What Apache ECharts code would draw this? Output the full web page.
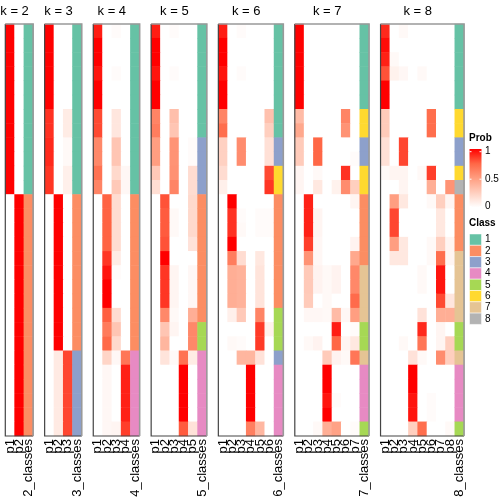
<!DOCTYPE html>
<html><head><meta charset="utf-8">
<script src="https://cdn.jsdelivr.net/npm/echarts@6/dist/echarts.min.js"></script>
<style>html,body{margin:0;padding:0;background:#fff}#c{width:504px;height:504px}</style>
</head><body><div id="c"></div>
<script>
// ---------------- DATA ----------------
const kValues = [2, 3, 4, 5, 6, 7, 8];
const classColors = ['#66C2A5', '#FC8D62', '#8DA0CB', '#E78AC3', '#A6D854', '#FFD92F', '#E5C494', '#B3B3B3'];
const probLegendTicks = ['0', '0.5', '1'];

const probs2 = [
[1,0],[1,0],[1,0],[1,0],[1,0],[1,0],[1,0],[1,0],[1,0],[1,0],[1,0],[1,0],
[0,1],[0,1],[0,1],[0,1],[0,1],[0,1],[0,1],[0,1],[0,1],[0,1],[0,1],[0,1],[0,1],[0,1],[0,1],[0,1],[0,1]];
const classes2 = [1,1,1,1,1,1,1,1,1,1,1,1,2,2,2,2,2,2,2,2,2,2,2,2,2,2,2,2,2];

const probs3 = [
[1,0,0],[1,0,0],[1,0,0],[1,0,0],[1,0,0],[1,0,0],
[0.88,0,0.1],[0.88,0,0.1],[0.9,0,0.03],[0.9,0,0.03],[0.87,0,0.08],[0.87,0,0.08],
[0,1,0],[0,1,0],[0,1,0],[0,1,0],[0,1,0],[0,1,0],[0,1,0],[0,1,0],[0,1,0],[0,1,0],[0,1,0],
[0,0.11,0.83],[0,0.11,0.83],[0,0.11,0.83],[0,0.11,0.83],[0,0.11,0.83],[0,0.11,0.83]];
const classes3 = [1,1,1,1,1,1,1,1,1,1,1,1,2,2,2,2,2,2,2,2,2,2,2,3,3,3,3,3,3];

const probs4 = [
[0.93,0,0.02,0],[1,0,0,0],[1,0,0,0],[0.95,0,0.02,0],[1,0,0,0],[1,0,0,0],
[0.82,0,0.13,0],[0.82,0,0.13,0],[0.6,0,0.3,0],[0.6,0,0.3,0],[0.7,0,0.2,0.04],[0.62,0,0.28,0.04],
[0,0.76,0.18,0],[0,0.76,0.18,0],[0,0.76,0.18,0],[0,0.76,0.18,0],[0,0.87,0.1,0],[0,0.95,0.02,0],
[0,1,0,0],[0,1,0,0],[0,0.77,0.18,0],[0,0.66,0.3,0],[0,0.74,0.2,0],
[0,0.22,0.04,0.68],[0,0.04,0,0.92],[0,0.04,0,0.92],[0,0.04,0,0.92],[0,0.04,0,0.92],[0,0.04,0.05,0.85]];
const classes4 = [1,1,1,1,1,1,1,1,1,1,1,1,2,2,2,2,2,2,2,2,2,2,2,4,4,4,4,4,4];

const probs5 = [
[0.93,0,0.02,0,0],[1,0,0,0,0],[1,0,0,0,0],[0.95,0,0.02,0,0],[1,0,0,0,0],[1,0,0,0,0],
[0.62,0,0.33,0,0],[0.65,0,0.3,0,0],[0.5,0,0.55,0,0.02],[0.5,0,0.55,0,0.02],[0.28,0,0.56,0,0.18],[0.17,0,0.62,0,0.18],
[0,0.8,0,0,0.2],[0,0.78,0.03,0,0.2],[0,0.78,0.03,0,0.2],[0,0.8,0,0,0.15],[0,1,0,0,0],
[0,0.87,0.05,0,0.04],[0,0.87,0.05,0,0.04],[0,0.87,0.05,0,0.04],[0,0.6,0.03,0,0.42],
[0,0.3,0.05,0,0.6],[0,0.38,0,0,0.6],
[0,0.14,0.03,0.7,0.1],[0,0,0,1,0],[0,0,0,1,0],[0,0,0,1,0],[0,0,0,1,0],[0,0,0,0.78,0.15]];
const classes5 = [1,1,1,1,1,1,1,1,3,3,3,3,2,2,2,2,2,2,2,2,2,5,5,4,4,4,4,4,4];

const probs6 = [
[0.93,0,0.02,0,0,0],[1,0,0,0,0,0],[1,0,0,0,0,0],[0.95,0,0.02,0,0,0],[1,0,0,0,0,0],[1,0,0,0,0,0],
[0.62,0,0,0,0,0.32],[0.72,0,0,0,0,0.25],[0.24,0,0.58,0,0,0.16],[0.24,0,0.58,0,0,0.16],[0.18,0,0,0,0,0.82],[0.08,0,0,0,0,0.87],
[0,1,0,0,0,0],[0,0.88,0.02,0,0.02,0.02],[0,0.88,0.03,0,0.02,0.02],[0,1,0,0,0,0],
[0,0.65,0.18,0,0.12,0],[0,0.42,0.4,0,0.14,0],[0,0.42,0.4,0,0.14,0],[0,0.42,0.4,0,0.14,0],
[0,0.08,0.28,0,0.62,0],[0,0,0,0,0.86,0.07],[0,0.03,0.02,0,0.86,0],
[0,0,0.38,0.38,0.15,0],[0,0,0,1,0,0],[0,0,0,1,0,0],[0,0,0,1,0,0],[0,0,0,1,0,0],[0,0,0,0.64,0.37,0]];
const classes6 = [1,1,1,1,1,1,1,1,3,3,6,6,2,2,2,2,2,2,2,2,5,5,5,3,4,4,4,4,4];

const probs7 = [
[1,0,0,0,0,0,0],[1,0,0,0,0,0,0],[1,0,0,0,0,0,0],[1,0,0,0,0,0,0],[1,0,0,0,0,0,0],[1,0,0,0,0,0,0],
[0.35,0,0,0,0,0.62,0],[0.45,0,0,0,0,0.55,0],[0.27,0,0.75,0,0,0,0],[0.27,0,0.75,0,0,0,0.02],
[0.05,0,0.03,0,0,0.88,0],[0.05,0,0.12,0,0.07,0.58,0.25],
[0,0.92,0,0,0,0,0.05],[0,0.92,0.05,0,0,0,0],[0,0.92,0.05,0,0,0,0],[0,0.85,0.04,0,0,0,0.06],[0,0.55,0.04,0,0,0,0.45],
[0,0.28,0.06,0.03,0.06,0,0.6],[0,0.28,0.06,0.03,0.06,0,0.6],[0,0.27,0,0.03,0,0,0.73],[0,0.04,0.04,0.03,0.35,0.04,0.5],
[0,0,0,0,0.93,0,0.02],[0,0.03,0.06,0,0.75,0.05,0.12],
[0,0,0,0.27,0.06,0.03,0.68],[0,0,0,1,0,0,0],[0,0,0,1,0,0,0],[0,0,0,0.95,0.02,0,0],[0,0,0,1,0,0,0],[0,0,0.03,0.42,0.48,0,0.02]];
const classes7 = [1,1,1,1,1,1,6,6,3,3,6,6,2,2,2,2,2,7,7,7,7,5,5,7,4,4,4,4,5];

const probs8 = [
[0.9,0,0.03,0,0,0,0,0],[0.97,0,0,0,0,0,0,0],[0.92,0.03,0,0,0,0,0,0],[0.8,0.07,0.04,0,0.03,0,0,0],[1,0,0,0,0,0,0,0],[1,0,0,0,0,0,0,0],
[0.27,0,0,0,0,0.72,0,0],[0.27,0,0,0,0,0.72,0,0],[0.16,0,0.83,0,0,0,0,0],[0.16,0,0.83,0,0,0,0,0],
[0.03,0.05,0.05,0,0.03,0.85,0,0],[0,0,0.05,0,0,0.42,0,0.55],
[0,0.5,0.12,0,0,0.03,0.25,0.05],[0,0.83,0,0,0,0,0.12,0],[0,0.83,0,0,0,0,0.12,0],[0,0.5,0.12,0,0,0.03,0.25,0.05],
[0,0.12,0.12,0,0,0.03,0.72,0.05],[0,0,0,0,0.03,0,0.95,0],[0,0,0,0,0.03,0,0.95,0],[0,0,0,0,0,0,0.82,0.13],[0,0,0,0,0.15,0,0.42,0.42],
[0,0,0,0,0.9,0,0.05,0],[0,0,0.03,0,0.68,0,0.05,0.25],
[0,0,0,0.15,0.03,0,0.58,0.25],[0,0,0,1,0,0,0,0],[0,0,0,1,0,0,0,0],[0,0,0,0.95,0,0.02,0,0],[0,0,0,0.95,0,0.02,0,0],[0,0,0,0.25,0.72,0,0,0.03]];
const classes8 = [1,1,1,1,1,1,6,6,3,3,6,8,2,2,2,2,7,7,7,7,7,5,5,7,4,4,4,4,5];

const allProbs = [probs2, probs3, probs4, probs5, probs6, probs7, probs8];
const allClasses = [classes2, classes3, classes4, classes5, classes6, classes7, classes8];

// ---------------- LAYOUT ----------------
const FONT = 'Liberation Sans, Arial, sans-serif';
const colW = 9.28, gapW = 11.5, x0 = 5.3, gTop = 24, gHeight = 412;
const probColors = ['#FFFFFF', '#FFCFBF', '#FF9E81', '#FF6746', '#FF0000'];

const grids = [], xAxes = [], yAxes = [], series = [], graphics = [];
const probIdx = [], classIdx = [];
let left = x0;
kValues.forEach((k, i) => {
  const nCol = k + 1;
  const w = nCol * colW;
  grids.push({left: left, top: gTop, width: w, height: gHeight});
  const cats = [];
  for (let j = 1; j <= k; j++) cats.push('p' + j);
  cats.push(k + '_classes');
  const nRows = allProbs[i].length;
  const rows = [];
  for (let r = 0; r < nRows; r++) rows.push(String(r));
  xAxes.push({type: 'category', gridIndex: i, data: cats, position: 'bottom',
    axisLine: {show: false}, axisTick: {show: false}, splitLine: {show: false},
    axisLabel: {rotate: 90, interval: 0, margin: 3, fontSize: 13, color: '#000', fontFamily: FONT}});
  yAxes.push({type: 'category', gridIndex: i, data: rows, inverse: true, show: false});
  const pd = [];
  allProbs[i].forEach((row, r) => row.forEach((v, c) => pd.push([c, r, v])));
  probIdx.push(series.length);
  series.push({type: 'heatmap', xAxisIndex: i, yAxisIndex: i, data: pd, emphasis: {disabled: true}, silent: true, animation: false});
  const cd = allClasses[i].map((cl, r) => [k, r, cl]);
  classIdx.push(series.length);
  series.push({type: 'heatmap', xAxisIndex: i, yAxisIndex: i, data: cd, emphasis: {disabled: true}, silent: true, animation: false});
  // frame
  graphics.push({type: 'polyline', z: 100, shape: {points: [[left, gTop], [left, gTop + gHeight], [left + w, gTop + gHeight]]}, style: {stroke: '#444', lineWidth: 1.2, fill: null}});
  graphics.push({type: 'polyline', z: 100, shape: {points: [[left, gTop], [left + w, gTop], [left + w, gTop + gHeight]]}, style: {stroke: '#999', lineWidth: 1.6, fill: null}});
  // title centred over probability columns
  graphics.push({type: 'text', z: 100, x: left + k * colW / 2, y: 11.5,
    style: {text: 'k = ' + k, fontSize: 13, fontFamily: FONT, fill: '#000', textAlign: 'center', textVerticalAlign: 'middle'}});
  left += w + gapW;
});

// legends
const lx = 469.5, lw = 12;
graphics.push({type: 'text', x: lx - 0.5, y: 138.5, style: {text: 'Prob', fontSize: 10, fontWeight: 'bold', fontFamily: FONT, fill: '#000', textVerticalAlign: 'middle'}});
const barTop = 149, barBot = 207.5;
graphics.push({type: 'rect', shape: {x: lx, y: barTop, width: lw, height: barBot - barTop},
  style: {fill: {type: 'linear', x: 0, y: 0, x2: 0, y2: 1, colorStops: probColors.slice().reverse().map((c, j) => ({offset: j / 4, color: c}))}}});
const yOne = 151.7, yZero = 206.7;
probLegendTicks.forEach(t => {
  const v = parseFloat(t);
  const y = yZero + (yOne - yZero) * v;
  graphics.push({type: 'text', x: lx + lw + 3.5, y: y, style: {text: t, fontSize: 10, fontFamily: FONT, fill: '#000', textVerticalAlign: 'middle'}});
  graphics.push({type: 'line', shape: {x1: lx, y1: y, x2: lx + 2, y2: y}, style: {stroke: '#fff', lineWidth: 1}});
  graphics.push({type: 'line', shape: {x1: lx + lw - 2, y1: y, x2: lx + lw, y2: y}, style: {stroke: '#fff', lineWidth: 1}});
});
graphics.push({type: 'text', x: lx - 0.5, y: 223.3, style: {text: 'Class', fontSize: 10, fontWeight: 'bold', fontFamily: FONT, fill: '#000', textVerticalAlign: 'middle'}});
const sqTop = 234, sqH = 11.3;
classColors.forEach((c, j) => {
  graphics.push({type: 'rect', shape: {x: lx, y: sqTop + j * sqH, width: lw, height: sqH}, style: {fill: c, stroke: '#fff', lineWidth: 0.5}});
  graphics.push({type: 'text', x: lx + lw + 3.5, y: sqTop + j * sqH + sqH / 2, style: {text: String(j + 1), fontSize: 10, fontFamily: FONT, fill: '#000', textVerticalAlign: 'middle'}});
});

const chart = echarts.init(document.getElementById('c'), null, {renderer: 'canvas'});
chart.setOption({
  animation: false,
  grid: grids, xAxis: xAxes, yAxis: yAxes, series: series,
  visualMap: [
    {type: 'continuous', min: 0, max: 1, dimension: 2, seriesIndex: probIdx, show: false, inRange: {color: probColors}},
    {type: 'piecewise', dimension: 2, seriesIndex: classIdx, show: false,
      pieces: classColors.map((c, j) => ({value: j + 1, color: c}))}
  ],
  graphic: graphics
});
</script></body></html>
